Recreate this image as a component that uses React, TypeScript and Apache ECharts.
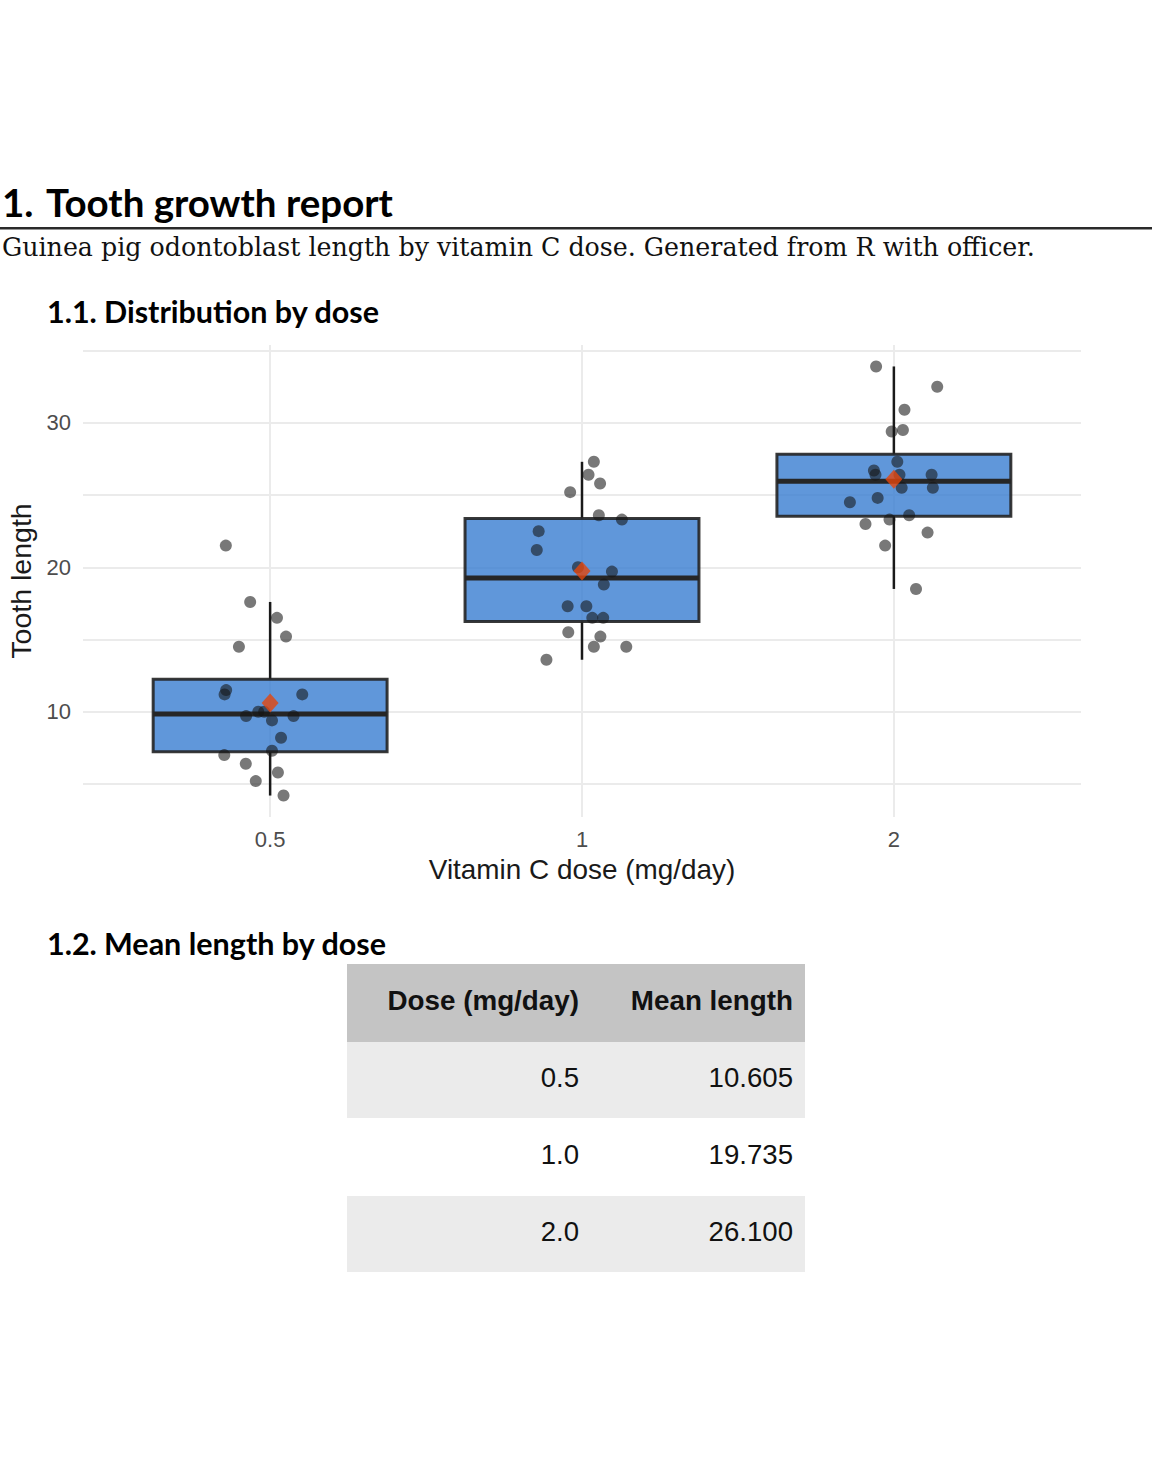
import React, { useEffect, useRef } from "react";
import * as echarts from "echarts";

// Vitamin C dose groups (x axis categories) and their table labels
const doseLabels = ["0.5", "1", "2"];
const tableDoseLabels = ["0.5", "1.0", "2.0"];
const tableHeaders = ["Dose (mg/day)", "Mean length"];

// Tooth length observations per dose
const lenDose05 = [4.2, 11.5, 7.3, 5.8, 6.4, 10, 11.2, 11.2, 5.2, 7, 15.2, 21.5, 17.6, 9.7, 14.5, 10, 8.2, 9.4, 16.5, 9.7];
const lenDose1 = [16.5, 16.5, 15.2, 17.3, 22.5, 17.3, 13.6, 14.5, 18.8, 15.5, 19.7, 23.3, 23.6, 26.4, 20, 25.2, 25.8, 21.2, 14.5, 27.3];
const lenDose2 = [23.6, 18.5, 33.9, 25.5, 26.4, 32.5, 26.7, 21.5, 23.3, 29.5, 25.5, 26.4, 22.4, 24.5, 24.8, 30.9, 26.4, 27.3, 29.4, 23];

// Horizontal jitter of each observation (in category units)
const jitDose05 = [0.043, -0.141, 0.006, 0.025, -0.078, -0.038, -0.146, 0.103, -0.046, -0.147, 0.051, -0.142, -0.064, -0.077, -0.1, -0.019, 0.035, 0.006, 0.022, 0.075];
const jitDose1 = [0.033, 0.068, 0.059, -0.046, -0.139, 0.014, -0.114, 0.038, 0.07, -0.044, 0.096, 0.128, 0.054, 0.021, -0.013, -0.038, 0.058, -0.145, 0.142, 0.038];
const jitDose2 = [0.049, 0.071, -0.057, 0.125, -0.059, 0.139, -0.064, -0.028, -0.014, 0.029, 0.025, 0.018, 0.108, -0.141, -0.052, 0.034, 0.121, 0.011, -0.007, -0.091];

// Axis ticks
const yLabelValues = [10, 20, 30];
const yGridValues = [5, 10, 15, 20, 25, 30, 35];

const groups = [lenDose05, lenDose1, lenDose2];
const jitters = [jitDose05, jitDose1, jitDose2];

function quantile(sorted: number[], p: number) {
  const h = (sorted.length - 1) * p;
  const lo = Math.floor(h);
  const hi = Math.ceil(h);
  return sorted[lo] + (h - lo) * (sorted[hi] - sorted[lo]);
}

function boxStats(vals: number[]) {
  const s = [...vals].sort((a, b) => a - b);
  const q1 = quantile(s, 0.25);
  const med = quantile(s, 0.5);
  const q3 = quantile(s, 0.75);
  const iqr = q3 - q1;
  const lo = Math.min(...s.filter((v) => v >= q1 - 1.5 * iqr));
  const hi = Math.max(...s.filter((v) => v <= q3 + 1.5 * iqr));
  return [lo, q1, med, q3, hi];
}

const mean = (vals: number[]) => vals.reduce((a, b) => a + b, 0) / vals.length;

const SANS = "'Liberation Sans', Arial, sans-serif";
const HEAD = "Lato, 'Open Sans', sans-serif";
const SERIF = "'DejaVu Serif', serif";

export default function App() {
  const ref = useRef<HTMLDivElement>(null);

  useEffect(() => {
    document.body.style.margin = "0";
    if (!ref.current) return;
    const chart = echarts.init(ref.current, null, { renderer: "svg" });

    const allLen = groups.flat();
    const yMin = Math.min(...allLen);
    const yMax = Math.max(...allLen);
    const pad = (yMax - yMin) * 0.05;

    const boxData = groups.map((g, i) => [i + 1, ...boxStats(g)]);
    const pointData: number[][] = [];
    groups.forEach((g, i) => g.forEach((v, j) => pointData.push([i + 1 + jitters[i][j], v])));
    const means = groups.map(mean);
    const meanData = means.map((m, i) => [i + 1, m]);

    // Table geometry
    const tX = 347;
    const tW = 458;
    const colRight = [579, 793];
    const rowTops = [964, 1042, 1118, 1196];
    const rowH = [78, 76, 78, 76];
    const rowFill = ["#C4C4C4", "#EBEBEB", "#FFFFFF", "#EBEBEB"];

    const txt = (text: string, x: number, y: number, size: number, family: string, weight: string, fill: string, align = "left") => ({
      type: "text",
      x,
      y,
      silent: true,
      style: {
        text,
        fontSize: size,
        fontFamily: family,
        fontWeight: weight,
        fill,
        align,
        textAlign: align,
        verticalAlign: "middle",
        textVerticalAlign: "middle",
      },
    });

    const graphics: any[] = [
      txt("1.", 2, 202, 38.5, HEAD, "bold", "#000"),
      txt("Tooth growth report", 46, 202, 38.5, HEAD, "bold", "#000"),
      { type: "rect", shape: { x: 0, y: 227, width: 1152, height: 2.5 }, style: { fill: "#2a2a2a" }, silent: true },
      txt("Guinea pig odontoblast length by vitamin C dose. Generated from R with officer.", 2, 247, 25.3, SERIF, "normal", "#111"),
      txt("1.1.", 47, 311, 30.5, HEAD, "bold", "#000"),
      txt("Distribution by dose", 104, 311, 30.5, HEAD, "bold", "#000"),
      txt("1.2.", 47, 943, 30.5, HEAD, "bold", "#000"),
      txt("Mean length by dose", 104, 943, 30.5, HEAD, "bold", "#000"),
    ];

    rowTops.forEach((top, r) => {
      graphics.push({ type: "rect", silent: true, shape: { x: tX, y: top, width: tW, height: rowH[r] }, style: { fill: rowFill[r] } });
      const cy = top + rowH[r] / 2 - 2.5;
      if (r === 0) {
        tableHeaders.forEach((h, c) => graphics.push(txt(h, colRight[c], cy, 27.8, SANS, "bold", "#111", "right")));
      } else {
        graphics.push(txt(tableDoseLabels[r - 1], colRight[0], cy, 27.6, SANS, "normal", "#111", "right"));
        graphics.push(txt(means[r - 1].toFixed(3), colRight[1], cy, 27.6, SANS, "normal", "#111", "right"));
      }
    });

    chart.setOption({
      animation: false,
      backgroundColor: "#ffffff",
      grid: { left: 83, right: 71, top: 345, bottom: 642, containLabel: false, outerBoundsMode: "none" },
      xAxis: {
        type: "value",
        min: 0.4,
        max: 3.6,
        name: "Vitamin C dose (mg/day)",
        nameLocation: "middle",
        nameGap: 38,
        nameTextStyle: { fontSize: 27.9, fontFamily: SANS, color: "#1a1a1a" },
        axisLine: { show: false },
        axisTick: { show: false, customValues: [1, 2, 3] },
        axisLabel: {
          customValues: [1, 2, 3],
          formatter: (v: number) => doseLabels[Math.round(v) - 1] ?? "",
          fontSize: 22,
          fontFamily: SANS,
          color: "#4D4D4D",
          margin: 11,
        },
        splitLine: { show: true, lineStyle: { color: "#EBEBEB", width: 2 } },
      },
      yAxis: {
        type: "value",
        min: yMin - pad,
        max: yMax + pad,
        name: "Tooth length",
        nameLocation: "middle",
        nameGap: 48,
        nameRotate: 90,
        nameTextStyle: { fontSize: 28.5, fontFamily: SANS, color: "#1a1a1a" },
        axisLine: { show: false },
        axisTick: { show: false, customValues: yGridValues },
        axisLabel: {
          customValues: yLabelValues,
          fontSize: 22,
          fontFamily: SANS,
          color: "#4D4D4D",
          margin: 12,
        },
        splitLine: { show: true, lineStyle: { color: "#EBEBEB", width: 2 } },
      },
      series: [
        {
          type: "custom",
          data: boxData,
          encode: { x: 0, y: [1, 2, 3, 4, 5] },
          silent: true,
          renderItem: (_params: any, api: any) => {
            const x = api.value(0);
            const lo = api.value(1);
            const q1 = api.value(2);
            const med = api.value(3);
            const q3 = api.value(4);
            const hi = api.value(5);
            const half = 0.375;
            const tl = api.coord([x - half, q3]);
            const br = api.coord([x + half, q1]);
            const mL = api.coord([x - half, med]);
            const mR = api.coord([x + half, med]);
            const pHi = api.coord([x, hi]);
            const pQ3 = api.coord([x, q3]);
            const pQ1 = api.coord([x, q1]);
            const pLo = api.coord([x, lo]);
            const wStyle = { stroke: "#1a1a1a", lineWidth: 2.5 };
            return {
              type: "group",
              children: [
                { type: "line", shape: { x1: pHi[0], y1: pHi[1], x2: pQ3[0], y2: pQ3[1] }, style: wStyle },
                { type: "line", shape: { x1: pQ1[0], y1: pQ1[1], x2: pLo[0], y2: pLo[1] }, style: wStyle },
                {
                  type: "rect",
                  shape: { x: tl[0], y: tl[1], width: br[0] - tl[0], height: br[1] - tl[1] },
                  style: { fill: "rgba(56,125,209,0.8)", stroke: "rgba(35,35,35,0.9)", lineWidth: 3 },
                },
                { type: "line", shape: { x1: mL[0], y1: mL[1], x2: mR[0], y2: mR[1] }, style: { stroke: "#262626", lineWidth: 5 } },
              ],
            };
          },
        },
        {
          type: "scatter",
          data: pointData,
          symbol: "circle",
          symbolSize: 12,
          silent: true,
          itemStyle: { color: "rgba(20,20,20,0.72)" },
        },
        {
          type: "scatter",
          data: meanData,
          symbol: "diamond",
          symbolSize: [17, 19],
          silent: true,
          itemStyle: { color: "#E3460C" },
        },
      ],
      graphic: graphics,
    });

    return () => chart.dispose();
  }, []);

  return <div ref={ref} style={{ width: 1152, height: 1459 }} />;
}
